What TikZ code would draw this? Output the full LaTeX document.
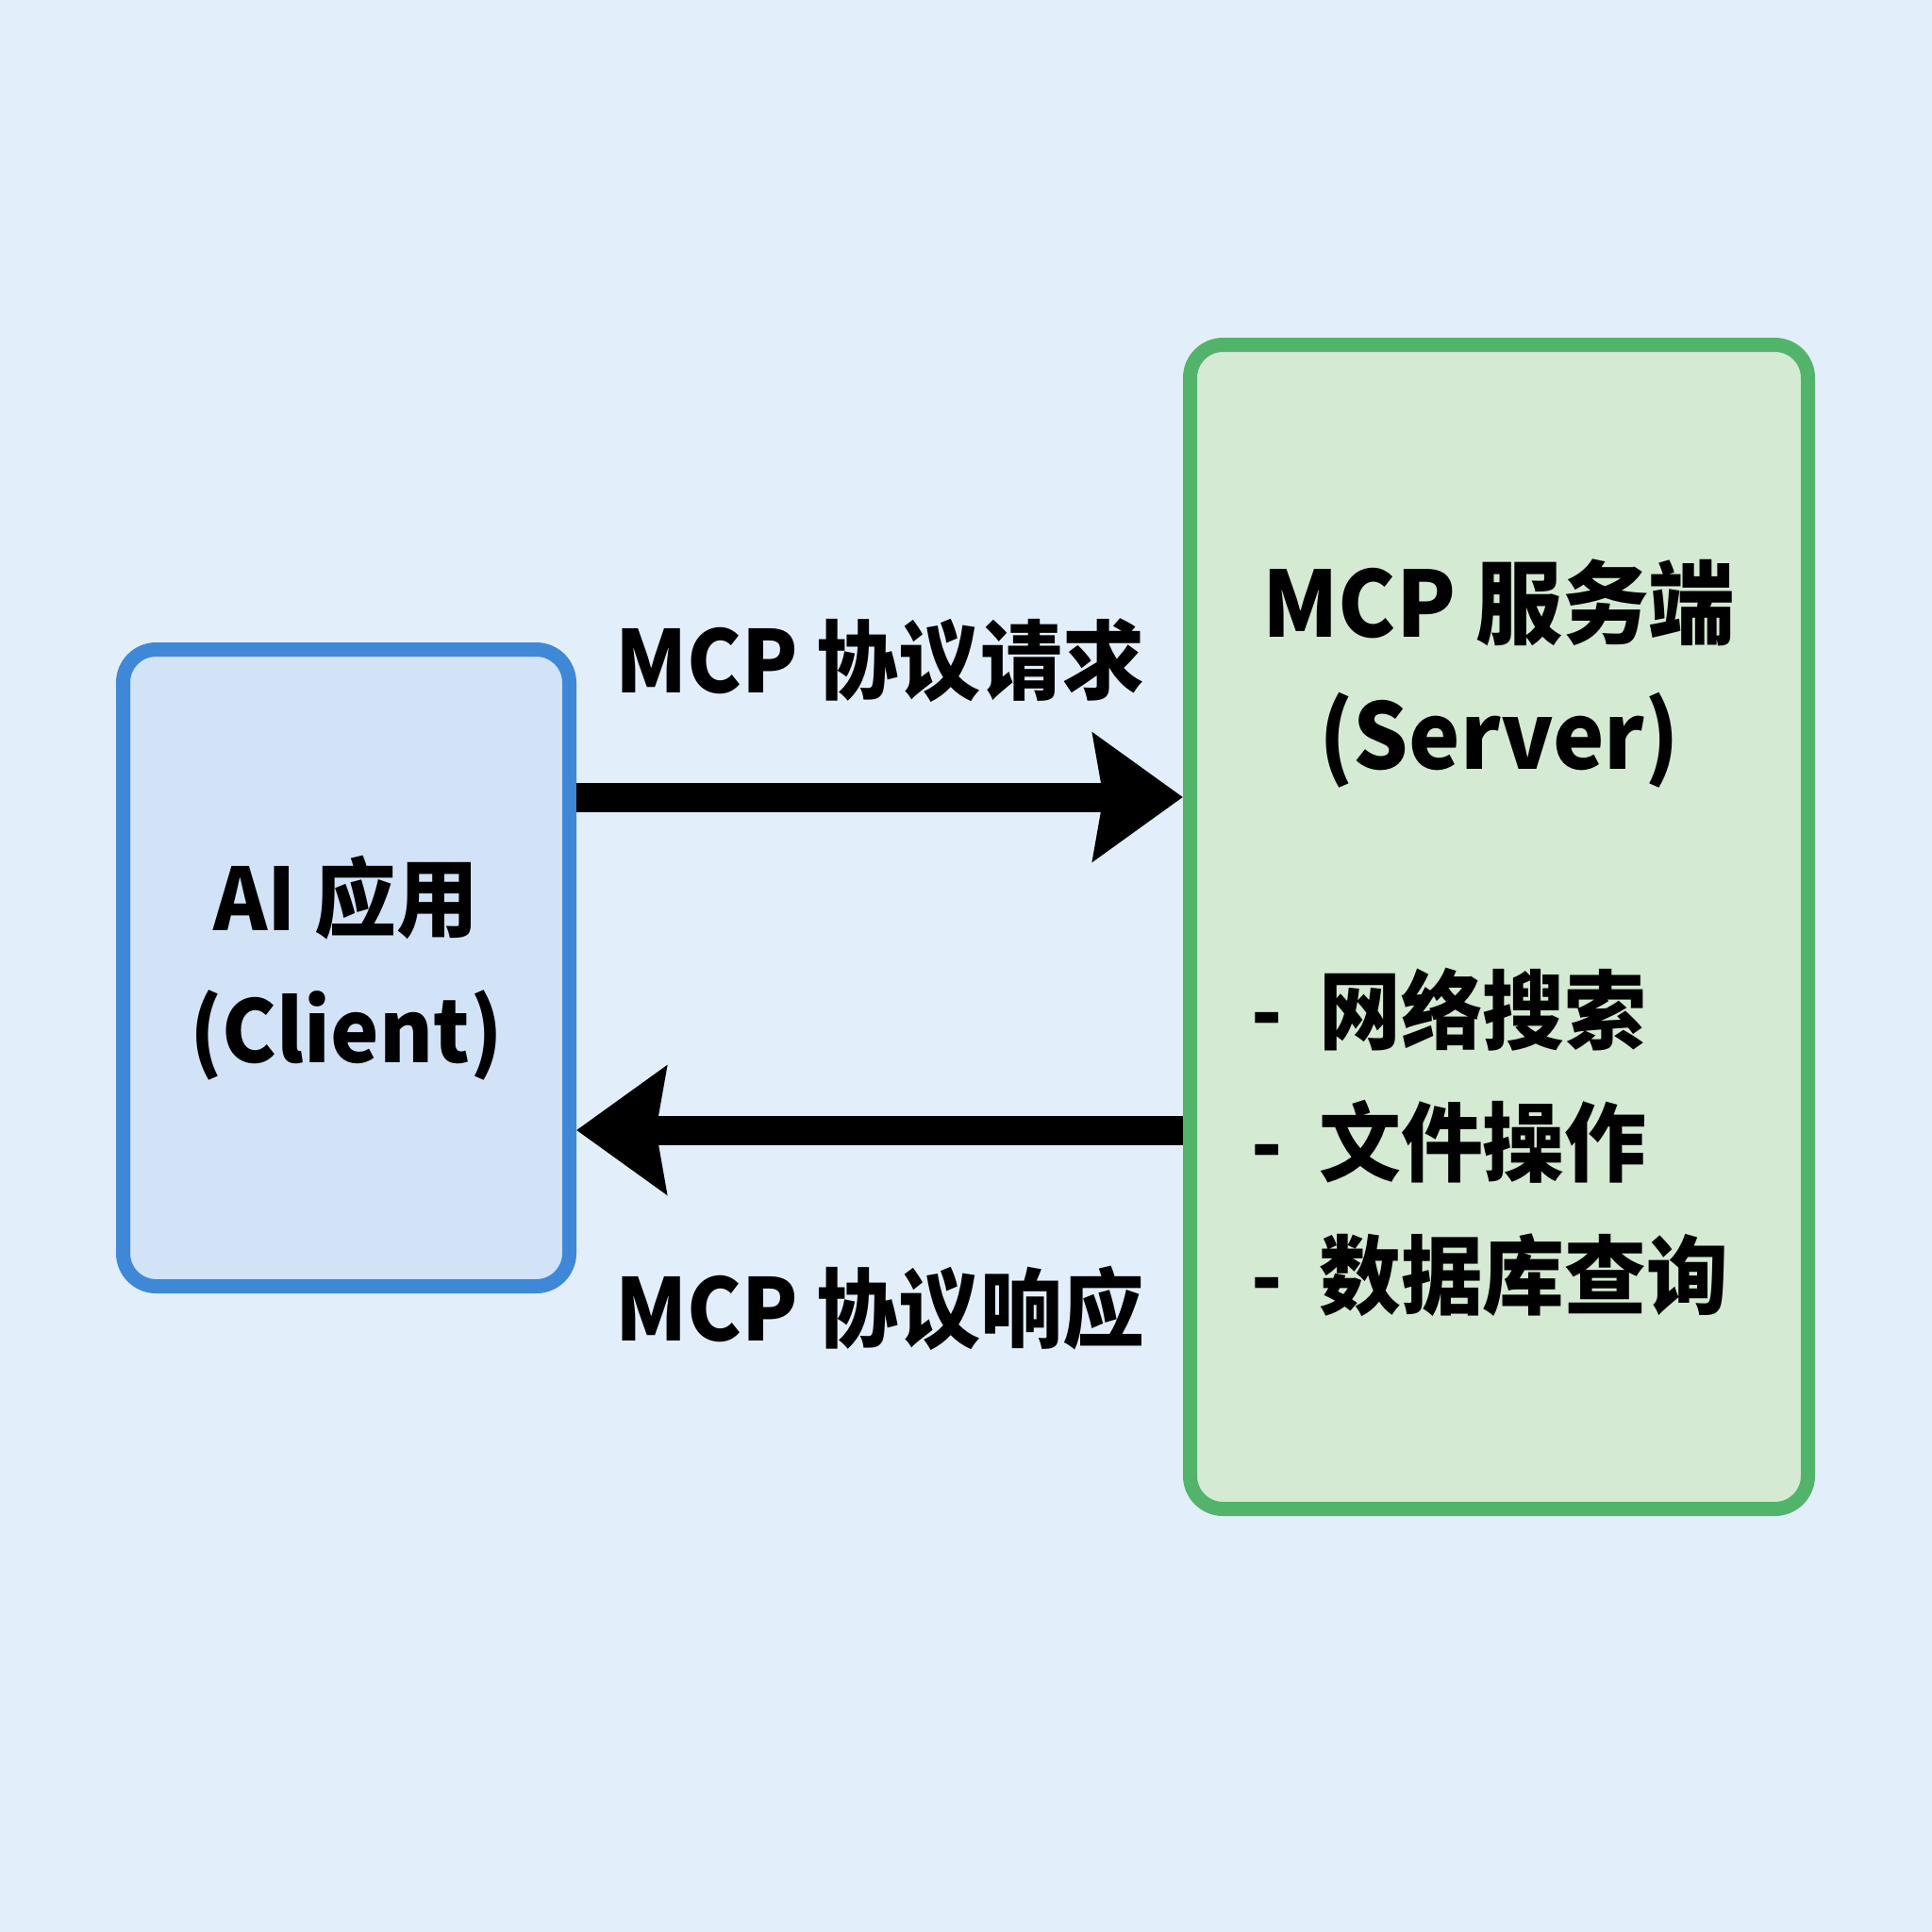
\documentclass[tikz,border=0pt]{standalone}
\usepackage{fontspec}
\setmainfont{Noto Sans CJK SC}[FakeStretch = 0.95]
\usetikzlibrary{positioning, arrows.meta}
\definecolor{MCPBack}{HTML}{E2EFFB}
\definecolor{MCPBlack}{HTML}{000000}
\definecolor{ClientBlue}{HTML}{3F88D8}
\definecolor{ClientFill}{HTML}{D2E2F7}
\definecolor{ServerGreen}{HTML}{52B46A}
\definecolor{ServerFill}{HTML}{D4EAD3}

\begin{document}
\begin{tikzpicture}[node distance = 1cm, font = \fontsize{26}{40}\selectfont\bfseries]%
    %
    \tikzstyle{arrow} = [-{Stealth[length = 27pt, width = 38pt, inset = 3pt]}, draw = MCPBlack, line width = 0.31cm]%
    \tikzstyle{clientbox} = [rectangle, draw = ClientBlue, fill = ClientFill, line width = 0.15cm, rounded corners = 0.35cm, minimum width = 4.73cm, minimum height = 6.75cm, text = MCPBlack, align = center]%
    \tikzstyle{serverbox} = [rectangle, draw = ServerGreen, fill = ServerFill, line width = 0.15cm, rounded corners = 0.35cm, minimum width = 6.55cm, minimum height = 12.34cm]%
    \tikzstyle{txt} = [text = MCPBlack, inner sep = 0pt, align = center]%
    %
    \fill [MCPBack] (0, 0) rectangle (20.48, -20.48);%
    \useasboundingbox (0, 0) rectangle (20.48, -20.48);%
    %
    \node [clientbox] (client) at (3.67, -10.26) {AI 应用\\(Client)};%
    \node [serverbox] (server) at (15.89, -9.825) {};%
    \node [txt, font = \fontsize{27.5}{40}\selectfont\bfseries] (server-name) at ([yshift = -3.56cm] server.north) {MCP 服务端\\(Server)};%
    \node [txt, align = left, anchor = west] (tools) at ([xshift = 0.72cm, yshift = -2.28cm] server.west) {-\hspace{0.42em}网络搜索\\-\hspace{0.42em}文件操作\\-\hspace{0.42em}数据库查询};%
    %
    \coordinate (req-line) at (0, -8.45);%
    \coordinate (res-line) at (0, -11.98);%
    \path [arrow] (client.east |- req-line) -- (server.west |- req-line) node [txt, midway, yshift = 1.45cm] (request) {MCP 协议请求};%
    \path [arrow] (server.west |- res-line) -- (client.east |- res-line) node [txt, midway, yshift = -1.89cm] (response) {MCP 协议响应};%
    %
\end{tikzpicture}
\end{document}
